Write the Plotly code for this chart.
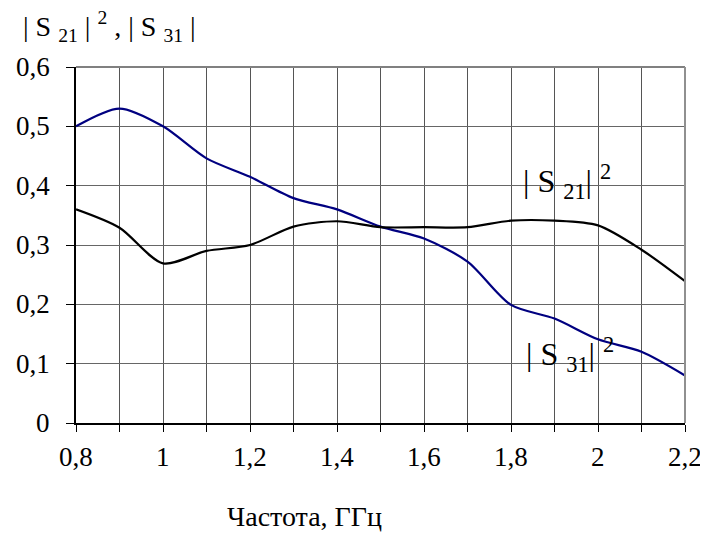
import plotly.graph_objects as go

freq = [0.8, 0.9, 1.0, 1.1, 1.2, 1.3, 1.4, 1.5, 1.6, 1.7, 1.8, 1.9, 2.0, 2.1, 2.2]
s21_sq = [0.360, 0.329, 0.269, 0.290, 0.300, 0.331, 0.340, 0.330, 0.330, 0.330, 0.341, 0.341, 0.333, 0.292, 0.239]
s31_sq = [0.500, 0.530, 0.500, 0.446, 0.415, 0.379, 0.360, 0.331, 0.311, 0.272, 0.199, 0.176, 0.141, 0.120, 0.080]

x_tick_vals = [0.8, 1.0, 1.2, 1.4, 1.6, 1.8, 2.0, 2.2]
x_tick_labels = ["0,8", "1", "1,2", "1,4", "1,6", "1,8", "2", "2,2"]
y_tick_vals = [0.0, 0.1, 0.2, 0.3, 0.4, 0.5, 0.6]
y_tick_labels = ["0", "0,1", "0,2", "0,3", "0,4", "0,5", "0,6"]

FONT = "Liberation Serif"
TICK_SIZE = 27
PLOT_W = 609


def label_width(t, size):
    # approximate advance widths for Times-like digits and comma
    return sum(0.5 * size if ch.isdigit() else 0.25 * size for ch in t)


fig = go.Figure()
fig.add_trace(go.Scatter(x=freq, y=s31_sq, mode="lines",
                         line=dict(color="#000080", width=2.2, shape="spline", smoothing=0.8),
                         showlegend=False))
fig.add_trace(go.Scatter(x=freq, y=s21_sq, mode="lines",
                         line=dict(color="#000000", width=2.2, shape="spline", smoothing=0.8),
                         showlegend=False))

annotations = []
for v, t in zip(x_tick_vals, x_tick_labels):
    annotations.append(dict(text=t, x=v, xref="x", y=-0.095, yref="paper", xanchor="center", yanchor="middle",
                            showarrow=False, font=dict(family=FONT, size=TICK_SIZE, color="black")))
for v, t in zip(y_tick_vals, y_tick_labels):
    cx = (-26 - label_width(t, TICK_SIZE) / 2) / PLOT_W
    annotations.append(dict(text=t, x=cx, xref="paper", y=v, yref="y", xanchor="center", yanchor="middle",
                            showarrow=False, font=dict(family=FONT, size=TICK_SIZE, color="black")))

annotations += [
    dict(text="| S <sub>21</sub> | <sup>2</sup> , | S <sub>31</sub> |", xref="paper", yref="paper",
         x=-0.09, y=1.115, xanchor="left", yanchor="middle", showarrow=False,
         font=dict(family=FONT, size=28, color="black")),
    dict(text="Частота, ГГц", xref="paper", yref="paper", x=0.376, y=-0.264, xanchor="center",
         yanchor="middle", showarrow=False, font=dict(family=FONT, size=28, color="black")),
    dict(text="| S <sub>21</sub>| <sup>2</sup>", xref="x", yref="y", x=1.822, y=0.407,
         xanchor="left", yanchor="middle", showarrow=False, font=dict(family=FONT, size=32, color="black")),
    dict(text="| S <sub>31</sub>| <sup>2</sup>", xref="x", yref="y", x=1.83, y=0.116,
         xanchor="left", yanchor="middle", showarrow=False, font=dict(family=FONT, size=32, color="black")),
]

fig.update_layout(
    template="none",
    width=700, height=527,
    margin=dict(l=68, r=23, t=59, b=112),
    paper_bgcolor="white", plot_bgcolor="white",
    font=dict(family=FONT, size=22, color="black"),
    xaxis=dict(range=[0.8, 2.2], dtick=0.2, tick0=0.8, showgrid=True, gridcolor="#555555", gridwidth=1,
               ticks="outside", ticklen=7, tickcolor="black", showline=True, linecolor="black", linewidth=1.5,
               zeroline=False, showticklabels=False,
               minor=dict(dtick=0.1, tick0=0.8, ticks="outside", ticklen=7, tickcolor="black",
                          showgrid=True, gridcolor="#555555", gridwidth=1)),
    yaxis=dict(range=[0, 0.6], dtick=0.1, showgrid=True, gridcolor="#666666", gridwidth=1.3,
               ticks="outside", ticklen=8, tickcolor="black", showline=True, linecolor="black", linewidth=1.5,
               zeroline=False, showticklabels=False),
    shapes=[
        dict(type="line", xref="paper", yref="paper", x0=0, x1=1, y0=1, y1=1,
             line=dict(color="#808080", width=2)),
        dict(type="line", xref="paper", yref="paper", x0=1, x1=1, y0=0, y1=1,
             line=dict(color="#909090", width=2)),
    ],
    annotations=annotations,
)

fig.write_html("out.html")
